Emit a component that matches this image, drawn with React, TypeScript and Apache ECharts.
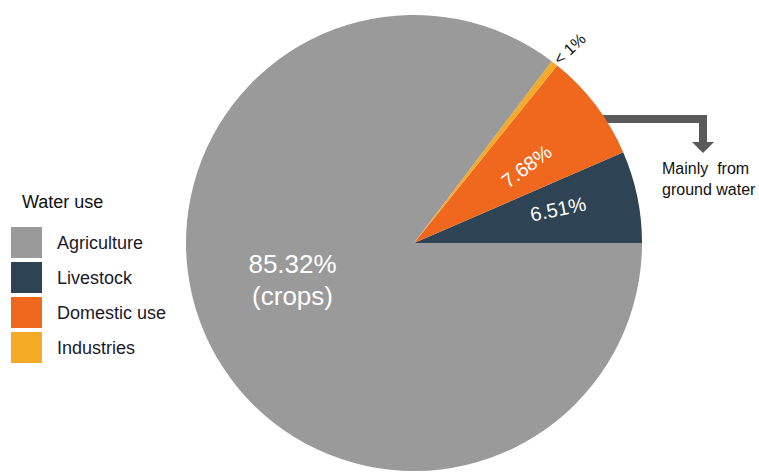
import React, { useEffect, useRef } from "react";
import * as echarts from "echarts";

// ---- data ----
const legendOrder = ["Agriculture", "Livestock", "Domestic use", "Industries"];
const sliceNames = ["Livestock", "Domestic use", "Industries", "Agriculture"];
const sliceShares = [6.51, 7.68, 0.49, 85.32];
const sliceColors = ["#2e4354", "#f0681e", "#f5aa28", "#9a9a9a"];
const sliceLabels = ["6.51%", "7.68%", "< 1%", "85.32%\n(crops)"];
const legendTitle = "Water use";
const noteLines = ["Mainly  from", "ground water"];

const FONT = "'Liberation Sans', Arial, sans-serif";

export default function App() {
  const ref = useRef<HTMLDivElement>(null);

  useEffect(() => {
    if (!ref.current) return;
    const chart = echarts.init(ref.current, null, { renderer: "svg" });

    const baseData = sliceNames.map((name, i) => ({
      name,
      value: sliceShares[i],
      itemStyle: { color: sliceColors[i] },
    }));

    const labelData = sliceNames.map((name, i) => {
      const isSmall = i === 2;
      const isBig = i === 3;
      return {
        name,
        value: sliceShares[i],
        itemStyle: { color: "rgba(0,0,0,0)" },
        label: {
          show: true,
          position: isSmall ? "outside" : "inside",
          rotate: isSmall ? 43 : isBig ? 0 : "radial",
          color: isSmall ? "#111111" : "#ffffff",
          fontSize: isSmall ? 16 : isBig ? 26 : 20,
          lineHeight: isBig ? 32 : undefined,
          fontFamily: FONT,
          formatter: () => sliceLabels[i],
        },
        labelLine: { show: false, length: 4, length2: 0 },
      };
    });

    const labelShift: Record<number, { dx: number; dy: number }> = {
      0: { dx: 9, dy: -4 },
      1: { dx: -3, dy: 7 },
      2: { dx: -5, dy: -3 },
      3: { dx: 3, dy: -25 },
    };

    chart.setOption({
      animation: false,
      backgroundColor: "#ffffff",
      legend: {
        data: legendOrder,
        orient: "vertical",
        left: 11,
        top: 227,
        padding: 0,
        itemWidth: 31,
        itemHeight: 31,
        itemGap: 4,
        icon: "rect",
        selectedMode: false,
        textStyle: {
          fontSize: 18,
          color: "#1a1a2a",
          fontFamily: FONT,
          padding: [0, 0, 0, 10],
        },
      },
      graphic: [
        {
          type: "text",
          left: 22,
          top: 193,
          style: {
            text: legendTitle,
            fontSize: 18,
            fill: "#111111",
            fontFamily: FONT,
          },
        },
        {
          type: "polyline",
          shape: { points: [[588, 119], [703, 119], [703, 143]] },
          style: { stroke: "#5a5a5a", lineWidth: 8, fill: null, lineJoin: "miter", lineCap: "butt" },
        },
        {
          type: "polygon",
          shape: { points: [[692, 142], [714, 142], [703, 153]] },
          style: { fill: "#5a5a5a" },
        },
        {
          type: "text",
          left: 662,
          top: 158,
          style: {
            text: noteLines.join("\n"),
            fontSize: 16,
            lineHeight: 21,
            fill: "#111111",
            fontFamily: FONT,
          },
        },
      ],
      series: [
        {
          type: "pie",
          center: [414, 243],
          radius: [0, 228],
          startAngle: 0,
          clockwise: false,
          silent: true,
          label: { show: false },
          labelLine: { show: false },
          itemStyle: { borderWidth: 0 },
          data: baseData,
        },
        {
          type: "pie",
          center: [414, 243],
          radius: [44, 228],
          startAngle: 0,
          clockwise: false,
          silent: true,
          avoidLabelOverlap: false,
          itemStyle: { borderWidth: 0 },
          data: labelData,
          labelLayout: (params: any) => labelShift[params.dataIndex] || {},
        },
      ],
    });

    return () => chart.dispose();
  }, []);

  return (
    <div
      ref={ref}
      style={{ position: "fixed", left: 0, top: 0, width: 759, height: 475 }}
    />
  );
}
